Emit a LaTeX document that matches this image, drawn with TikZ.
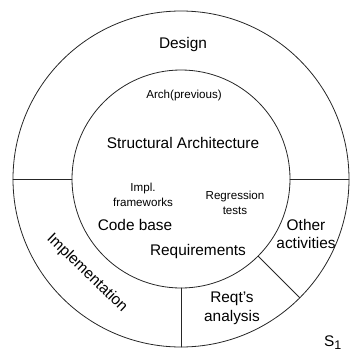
\documentclass[tikz,border=0pt]{standalone}
\usepackage{fontspec}
\setmainfont{Liberation Sans}
\usetikzlibrary{calc}

\begin{document}
\begin{tikzpicture}[
    x=1pt, y=-1pt,
    line join=round,
    line cap=round,
    ring/.style={draw=black!85, line width=0.8pt},
    biglabel/.style={font=\fontsize{15.4}{18}\selectfont, align=center, inner sep=0pt},
    smalllabel/.style={font=\fontsize{11.6}{15}\selectfont, align=center, inner sep=0pt}
]

% ========= Frame =========
\useasboundingbox (0,0) rectangle (349,356);

% ========= Rings =========
\coordinate (c) at (181,179);
\draw[ring] (c) circle[radius=168pt];
\draw[ring] (c) circle[radius=109pt];

% ========= Sector borders =========
\foreach \ang/\nm in {0/east,180/west,270/south,315/southeast}
{
    \coordinate (in-\nm) at ($(c)+(\ang:109pt)$);
    \coordinate (out-\nm) at ($(c)+(\ang:168pt)$);
    \draw[ring] (in-\nm) -- (out-\nm);
}

% ========= Outer ring labels =========
\node[biglabel] (design) at (183,45) {Design};
\node[biglabel, rotate=-44] (impl) at (87,273) {Implementation};
\node[biglabel] (reqts) at (232,308) {Reqt's\\[1pt]analysis};
\node[biglabel] (other) at (306,234) {Other\\activities};

% ========= Inner circle labels =========
\node[smalllabel] (arch) at (184,95) {Arch(previous)};
\node[biglabel] (struct) at (183,143) {Structural Architecture};
\node[smalllabel] (frame) at (143,195) {Impl.\\frameworks};
\node[smalllabel] (regr) at (235,203) {Regression\\tests};
\node[biglabel] (code) at (135,225) {Code base};
\node[biglabel] (req) at (198,252) {Requirements};

% ========= Corner mark =========
\node[biglabel, anchor=base west] (sys) at (324,346)
    {S\raisebox{-0.45ex}{\fontsize{12.5}{12.5}\selectfont 1}};

\end{tikzpicture}
\end{document}
